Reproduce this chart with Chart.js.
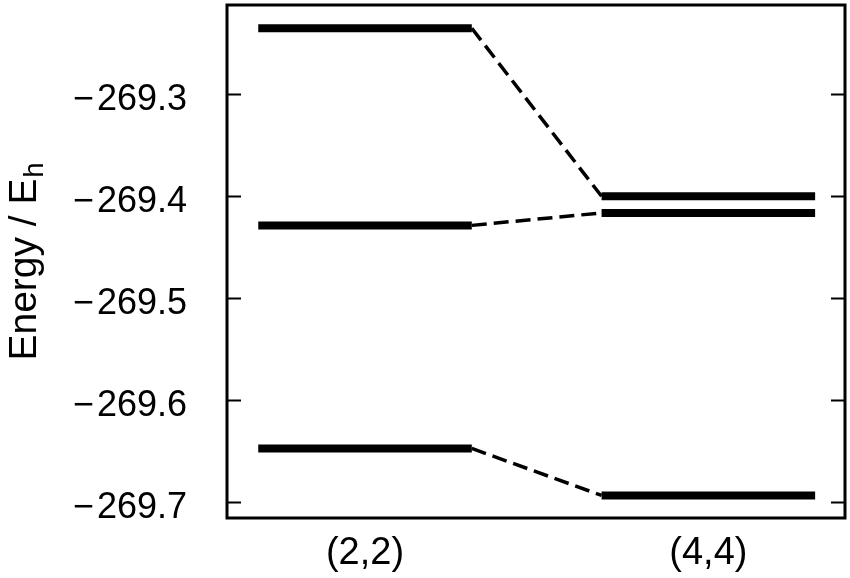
<!DOCTYPE html>
<html>
<head>
<meta charset="utf-8">
<script src="https://cdn.jsdelivr.net/npm/chart.js@4"></script>
<style>
  body { margin: 0; background: #fff; }
</style>
</head>
<body>
<canvas id="levels" width="850" height="578"></canvas>
<script>
// energy levels (Hartree)
const methods = ['(2,2)', '(4,4)'];
const levels22 = [-269.2353, -269.4285, -269.6471];
const levels44 = [-269.4000, -269.4163, -269.6932];
const yTicks = [-269.3, -269.4, -269.5, -269.6, -269.7];

const halfWidth = 0.311;
const fontFamily = '"Liberation Sans", Arial, sans-serif';

// one solid line per level, and a dashed connector between the two methods
var datasets = [];
[levels22, levels44].forEach(function (lv, i) {
    var c = i + 1;
    lv.forEach(function (e) {
        datasets.push({
            data: [{ x: c - halfWidth, y: e }, { x: c + halfWidth, y: e }],
            borderColor: '#000',
            borderWidth: 8,
            borderCapStyle: 'butt',
            pointRadius: 0
        });
    });
});
levels22.forEach(function (e, j) {
    datasets.push({
        data: [{ x: 1 + halfWidth, y: e }, { x: 2 - halfWidth, y: levels44[j] }],
        borderColor: '#000',
        borderWidth: 3.5,
        borderDash: [15, 7],
        borderCapStyle: 'butt',
        pointRadius: 0
    });
});

// frame, inward ticks and the y title with its subscript
const framePlugin = {
    id: 'frame',
    afterDraw: function (chart) {
        var ctx = chart.ctx, a = chart.chartArea, y = chart.scales.y;
        ctx.save();
        ctx.strokeStyle = '#000';
        ctx.lineWidth = 2;
        yTicks.forEach(function (v) {
            var py = Math.round(y.getPixelForValue(v)) + 0.5;
            ctx.beginPath();
            ctx.moveTo(a.left, py); ctx.lineTo(a.left + 14, py);
            ctx.moveTo(a.right, py); ctx.lineTo(a.right - 14, py);
            ctx.stroke();
        });
        ctx.lineWidth = 3;
        ctx.strokeRect(a.left, a.top, a.right - a.left, a.bottom - a.top);

        // "Energy / E_h"
        ctx.fillStyle = '#000';
        ctx.translate(36, 262);
        ctx.rotate(-Math.PI / 2);
        ctx.textBaseline = 'alphabetic';
        ctx.font = '39px ' + fontFamily;
        var main = 'Energy / E';
        var wMain = ctx.measureText(main).width;
        ctx.font = '27px ' + fontFamily;
        var wSub = ctx.measureText('h').width;
        var x0 = -(wMain + wSub) / 2;
        ctx.font = '39px ' + fontFamily;
        ctx.fillText(main, x0, 0);
        ctx.font = '27px ' + fontFamily;
        ctx.fillText('h', x0 + wMain + 1, 7);
        ctx.restore();
    }
};

function noEdgePadding(s) {
    s.paddingTop = 0;
    s.paddingBottom = 0;
    s.paddingLeft = 0;
    s.paddingRight = 0;
}

var ctx = document.getElementById('levels').getContext('2d');
var chart = new Chart(ctx, {
    type: 'line',
    data: { datasets: datasets },
    plugins: [framePlugin],
    options: {
        responsive: false,
        animation: false,
        layout: { padding: { top: 5, right: 5, left: 0, bottom: 0 } },
        plugins: { legend: { display: false }, tooltip: { enabled: false } },
        scales: {
            x: {
                type: 'linear',
                min: 0.598,
                max: 2.398,
                afterBuildTicks: function (s) {
                    s.ticks = methods.map(function (m, i) { return { value: i + 1 }; });
                },
                afterFit: function (s) { s.height = 60; noEdgePadding(s); },
                grid: { display: false, drawTicks: false },
                border: { display: false },
                ticks: {
                    color: '#000',
                    padding: 13,
                    font: { family: fontFamily, size: 38 },
                    callback: function (v) { return methods[Math.round(v) - 1]; }
                }
            },
            y: {
                min: -269.7153,
                max: -269.2125,
                afterBuildTicks: function (s) {
                    s.ticks = yTicks.map(function (v) { return { value: v }; });
                },
                afterFit: function (s) { s.width = 227; noEdgePadding(s); },
                grid: { display: false, drawTicks: false },
                border: { display: false },
                ticks: {
                    color: '#000',
                    padding: 40,
                    labelOffset: 6,
                    font: { family: fontFamily, size: 36 },
                    callback: function (v) { return '\u2212\u200A' + Math.abs(v).toFixed(1); }
                }
            }
        }
    }
});
</script>
</body>
</html>
